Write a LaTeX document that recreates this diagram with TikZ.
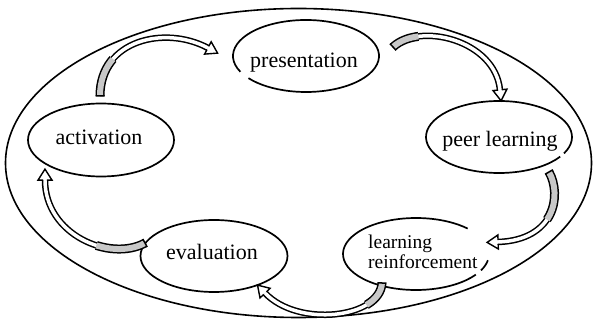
\documentclass[tikz,border=0pt]{standalone}
\usepackage{fontspec}
\setmainfont{Liberation Serif}
\usetikzlibrary{shapes.geometric,decorations.markings}
\newcommand\cyclearrow[2]{%
  \draw[line width=6.5pt, black] #1;
  \draw[line width=9pt, black, dash pattern=on #2pt off 2000pt] #1;
  \draw[line width=3.5pt, white] #1;
  \draw[line width=6pt, graybandfill, dash pattern=on #2pt off 2000pt] #1;
  \path[decorate, decoration={markings,
    mark=at position 0 with {\draw[line width=1.5pt] (0pt,-4.5pt)--(0pt,4.5pt);},
    mark=at position 0.999 with {\fill[white] (0pt,7pt)--(11pt,0pt)--(0pt,-7pt)--cycle;
      \draw[line width=1.4pt, line join=miter] (0pt,1.8pt)--(0pt,7pt)--(11pt,0pt)--(0pt,-7pt)--(0pt,-1.8pt);}}] #1;
}
\definecolor{graybandfill}{RGB}{200,200,200}
\tikzset{
  stage/.style={ellipse, minimum width=146pt, minimum height=72pt, inner sep=0pt},
  outline/.style={line width=1.7pt, black},
  lbl/.style={font=\fontsize{22}{26}\selectfont, inner sep=0pt},
  lblsmall/.style={font=\fontsize{19.5}{20}\selectfont, inner sep=0pt, align=left}
}
\begin{document}
\begin{tikzpicture}[x=1pt,y=-1pt]
\useasboundingbox (0,0) rectangle (595,320);
% outer ellipse
\node[ellipse, minimum width=586pt, minimum height=309pt, inner sep=0pt, draw, line width=1.6pt] (outer) at (298.5,163) {};
% stage ellipses
\node[stage] (pres) at (306,56) {};
\node[stage] (peer) at (499,137) {};
\node[stage] (act) at (101,140) {};
\node[stage] (eval) at (214,256) {};
\node[stage] (lr) at (416,254) {};
\draw[outline] (act) ellipse [x radius=73, y radius=36.5];
\draw[outline] (eval) ellipse [x radius=73.5, y radius=36];
\draw[outline] (pres.center) ++(154:73 and 36) arc[start angle=154, end angle=502, x radius=73, y radius=36];
\draw[outline] (peer.center) ++(33:73 and 36) arc[start angle=33, end angle=387, x radius=73, y radius=36];
\draw[outline] (lr.center) ++(35:73 and 36) arc[start angle=35, end angle=315, x radius=73, y radius=36];
\draw[outline] (lr.center) ++(10:73 and 36) arc[start angle=10, end angle=27, x radius=73, y radius=36];
% texts
\node[lbl, anchor=base] (presT) at (304,68) {presentation};
\node[lbl, anchor=base] (peerT) at (500,147) {peer learning};
\node[lbl, anchor=base] (actT) at (99,145) {activation};
\node[lbl, anchor=base] (evalT) at (212,260) {evaluation};
\node[lblsmall, anchor=west] (lrT) at (368,251.5) {learning\\reinforcement};
% arrow end points
\coordinate (a1s) at (100,96);  \coordinate (a1e) at (208,48);
\coordinate (a2s) at (393,47);  \coordinate (a2e) at (500,90);
\coordinate (a3s) at (549,172); \coordinate (a3e) at (498,242);
\coordinate (a4s) at (382,283); \coordinate (a4e) at (265,293);
\coordinate (a5s) at (145,243); \coordinate (a5e) at (45,180);
% arrows
\cyclearrow{(a1s) .. controls (100,40) and (165,25) .. (a1e)}{40}
\cyclearrow{(a2s) .. controls (420,22) and (495,40) .. (a2e)}{28}
\cyclearrow{(a3s) .. controls (562,195) and (555,240) .. (a3e)}{50}
\cyclearrow{(a4s) .. controls (380,318) and (298,328) .. (a4e)}{28}
\cyclearrow{(a5s) .. controls (110,262) and (45,235) .. (a5e)}{50}
\end{tikzpicture}
\end{document}
